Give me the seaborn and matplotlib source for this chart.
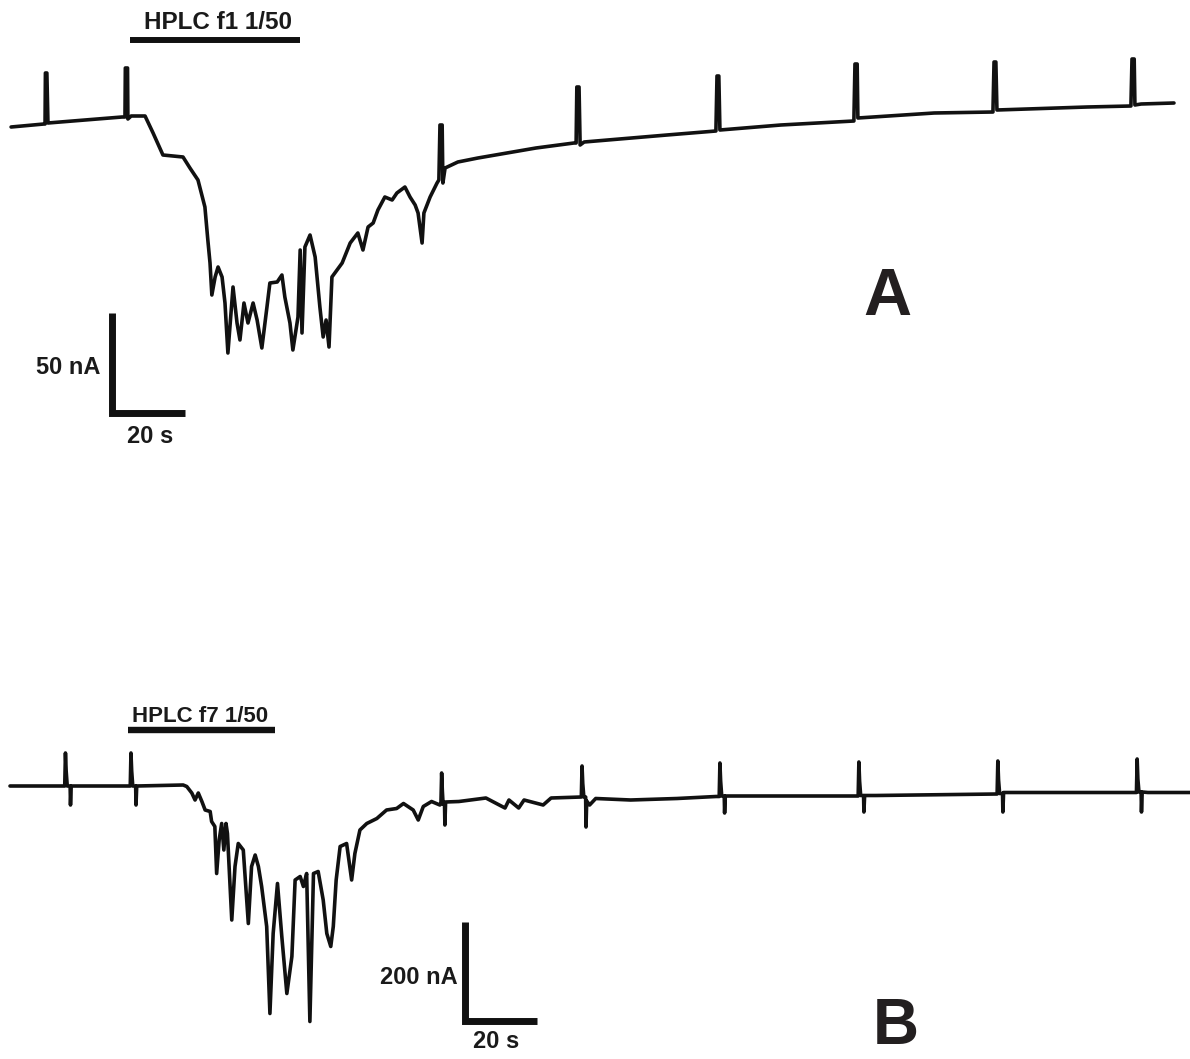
import matplotlib
matplotlib.use("Agg")
import matplotlib.pyplot as plt
import seaborn as sns
import pandas as pd

sns.set_theme(style="white")
plt.rcParams['font.family'] = ['Liberation Sans', 'DejaVu Sans']

# ---------------- Panel A : HPLC f1 1/50 (time in s, current in nA) ----------------
time_a = [0.3, 9.3, 9.6, 9.7, 10.1, 10.4, 30.7, 31.5, 31.6, 32.2, 32.3, 33.2, 37.0,
          39.2, 41.9, 47.4, 49.3, 51.5, 53.4, 54.2, 54.8, 55.3, 56.2, 57.0, 58.1, 58.9,
          59.7, 61.1, 62.2, 63.0, 64.1, 65.2, 66.6, 67.7, 69.0, 70.4, 71.2, 73.2, 74.5,
          75.3, 76.7, 77.5, 78.9, 79.5, 80.0, 80.8, 82.2, 83.6, 84.9, 85.8, 86.6, 87.4,
          88.2, 89.6, 91.0, 93.2, 95.3, 96.7, 98.1, 99.5, 100.8, 102.7, 104.7, 106.0,
          108.2, 109.6, 111.0, 111.8, 112.9, 113.4, 115.1, 117.0, 117.5, 117.8, 118.4,
          118.6, 119.2, 122.7, 128.2, 144.1, 154.5, 155.1, 155.3, 155.9, 156.2, 157.3,
          180.0, 193.4, 193.7, 194.2, 194.5, 211.2, 231.2, 231.5, 232.1, 232.3, 253.2,
          269.3, 269.6, 270.1, 270.4, 295.1, 307.1, 307.4, 308.0, 308.2, 309.9, 318.9]
current_a = [-1.0, 0.5, 0.5, 26.0, 26.0, 1.0, 4.0, 4.0, 28.5, 28.5, 3.0, 4.5, 4.5,
             -4.0, -15.0, -16.0, -21.5, -27.5, -41.0, -57.5, -69.0, -85.0, -76.0, -71.0,
             -76.0, -89.0, -114.0, -81.0, -99.0, -107.5, -89.0, -99.0, -89.0, -97.5,
             -111.5, -91.0, -79.0, -78.5, -75.0, -86.0, -99.0, -112.5, -96.0, -62.5,
             -104.0, -61.0, -55.0, -66.0, -91.0, -106.0, -97.5, -111.0, -76.0, -72.5,
             -69.0, -59.0, -54.0, -62.5, -51.0, -49.0, -42.5, -36.0, -37.5, -34.0, -31.0,
             -36.0, -40.0, -44.0, -59.0, -44.0, -36.0, -29.0, -27.5, 0.0, 0.0, -29.0,
             -21.5, -18.5, -16.5, -11.5, -9.0, -9.0, 19.0, 19.0, -10.0, -8.5, -5.0, -3.0,
             24.5, 24.5, -2.5, 0.0, 2.0, 30.5, 30.5, 3.5, 6.0, 6.5, 31.5, 31.5, 7.5, 9.0,
             9.5, 33.0, 33.0, 10.0, 10.5, 11.0]

# ---------------- Panel B : HPLC f7 1/50 (time in s, current in nA) ----------------
time_b = [0.0, 14.7, 15.2, 15.4, 15.6, 15.9, 16.7, 16.8, 17.0, 32.8, 33.4, 33.6, 33.8,
          34.1, 34.9, 35.0, 35.2, 48.1, 49.1, 50.5, 51.4, 52.3, 53.3, 54.2, 55.6, 56.0,
          56.9, 57.4, 58.1, 58.8, 59.4, 60.0, 60.4, 61.6, 62.5, 63.4, 64.8, 66.2, 67.1,
          68.1, 69.0, 69.9, 71.3, 72.2, 73.1, 74.3, 75.5, 76.9, 78.3, 79.2, 80.6, 81.5,
          82.4, 83.3, 84.3, 85.6, 87.0, 88.0, 89.1, 89.8, 90.6, 91.7, 93.5, 94.9, 95.8,
          97.2, 99.1, 101.9, 104.6, 107.4, 109.3, 112.0, 113.4, 114.8, 117.1, 119.4,
          119.7, 119.9, 120.1, 120.3, 120.7, 120.8, 121.0, 124.7, 132.2, 137.5, 138.6,
          141.3, 142.8, 148.1, 150.3, 158.3, 158.7, 158.9, 159.1, 159.4, 159.9, 160.0,
          160.2, 161.0, 162.7, 172.4, 185.3, 196.1, 197.0, 197.2, 197.4, 197.7, 198.4,
          198.5, 198.7, 201.6, 233.9, 235.6, 235.8, 236.0, 236.3, 237.1, 237.2, 237.4,
          240.5, 272.9, 274.2, 274.4, 274.6, 274.9, 275.7, 275.8, 276.0, 277.2, 311.8,
          312.9, 313.1, 313.3, 313.6, 314.2, 314.3, 314.5, 316.1, 327.8]
current_b = [0, 0, 0, 66, 30, 0, 0, -38, 0, 0, 0, 66, 30, 0, 0, -38, 0, 2, -1, -14, -28,
             -14, -31, -48, -51, -71, -81, -175, -108, -75, -128, -75, -95, -268, -161,
             -115, -128, -275, -161, -138, -161, -201, -281, -455, -295, -195, -301, -415,
             -341, -188, -181, -201, -175, -471, -175, -171, -228, -295, -321, -281, -188,
             -121, -115, -188, -135, -88, -75, -65, -48, -45, -35, -48, -68, -41, -31, -38,
             -36, 26, -10, -36, -36, -78, -32, -31, -24, -44, -28, -44, -28, -38, -24, -22,
             -22, 40, 5, -22, -22, -82, -30, -38, -25, -28, -25, -21, -21, 46, 10, -20, -20,
             -54, -20, -20, -20, -20, 48, 10, -19, -19, -52, -19, -19, -16, -16, 50, 12,
             -15, -15, -52, -13, -13, -13, -13, 54, 14, -12, -12, -52, -12, -13, -13]

# labels
drug_a = "HPLC f1 1/50"
drug_b = "HPLC f7 1/50"
panel_labels = ["A", "B"]
scale_time = 20      # s
scale_cur_a = 50     # nA
scale_cur_b = 200    # nA

df_a = pd.DataFrame({"t": time_a, "I": current_a})
df_b = pd.DataFrame({"t": time_b, "I": current_b})

fig = plt.figure(figsize=(11.9, 10.59), dpi=100)
axA = fig.add_axes([0, 0.5, 1, 0.5])
axB = fig.add_axes([0, 0.0, 1, 0.5])

trace_kw = dict(color="#111111", linewidth=2.6, sort=False, estimator=None, legend=False)
sns.lineplot(data=df_a, x="t", y="I", ax=axA, **trace_kw)
sns.lineplot(data=df_b, x="t", y="I", ax=axB, **trace_kw)

txt = dict(fontweight="bold", color="#1a1a1a")
ink = "#111111"

# ---- Panel A decorations ----
axA.plot([32.9, 79.5], [42.5, 42.5], color=ink, lw=4.3, solid_capstyle="butt")
axA.text(57.0, 48.0, drug_a, ha="center", va="baseline", fontsize=17.5, **txt)
axA.plot([27.9, 27.9, 27.9 + scale_time], [-94.0, -144.0, -144.0], color=ink, lw=5,
         solid_capstyle="butt", solid_joinstyle="miter")
axA.text(24.7, -121.5, f"{scale_cur_a} nA", ha="right", va="center", fontsize=17, **txt)
axA.text(38.4, -159.0, f"{scale_time} s", ha="center", va="baseline", fontsize=17, **txt)
axA.text(240.5, -95.0, panel_labels[0], ha="center", va="baseline", fontsize=48,
         fontweight="bold", color="#231f20")
axA.set_xlim(-2.74, 323.29)
axA.set_ylim(-202.25, 62.5)

# ---- Panel B decorations ----
axB.plot([32.8, 73.6], [112.0, 112.0], color=ink, lw=4.6, solid_capstyle="butt")
axB.text(52.8, 128.0, drug_b, ha="center", va="baseline", fontsize=16, **txt)
axB.plot([126.5, 126.5, 126.5 + scale_time], [-272.0, -470.0, -470.0], color=ink, lw=5,
         solid_capstyle="butt", solid_joinstyle="miter")
axB.text(124.3, -384.0, f"{scale_cur_b} nA", ha="right", va="center", fontsize=17, **txt)
axB.text(135.0, -524.0, f"{scale_time} s", ha="center", va="baseline", fontsize=17, **txt)
axB.text(246.1, -516.0, panel_labels[1], ha="center", va="baseline", fontsize=46,
         fontweight="bold", color="#231f20")
axB.set_xlim(-2.78, 327.78)
axB.set_ylim(-546.0, 513.0)

for ax in (axA, axB):
    ax.set_axis_off()

fig.savefig("out.png", dpi=100, facecolor="white")
